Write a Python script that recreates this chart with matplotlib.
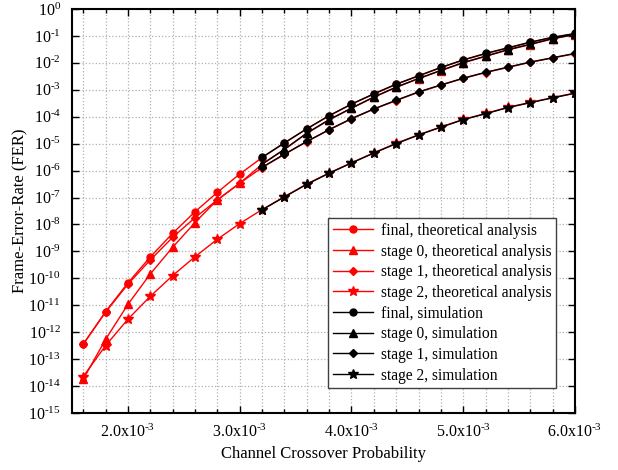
import numpy as np
import matplotlib
matplotlib.use("Agg")
import matplotlib.pyplot as plt
from matplotlib.ticker import FixedLocator, MultipleLocator, FuncFormatter, NullLocator

plt.rcParams['font.family'] = ['Liberation Serif', 'DejaVu Serif']
plt.rcParams['mathtext.fontset'] = 'custom'
plt.rcParams['mathtext.rm'] = 'Liberation Serif'
plt.rcParams['mathtext.it'] = 'Liberation Serif:italic'

# channel crossover probability (x 1e-3)
p_theory = [1.6, 1.8, 2.0, 2.2, 2.4, 2.6, 2.8, 3.0, 3.2, 3.4, 3.6, 3.8,
            4.0, 4.2, 4.4, 4.6, 4.8, 5.0, 5.2, 5.4, 5.6, 5.8, 6.0]
p_sim = [3.2, 3.4, 3.6, 3.8, 4.0, 4.2, 4.4, 4.6, 4.8, 5.0, 5.2, 5.4, 5.6, 5.8, 6.0]

# log10(FER), theoretical analysis
final_th = [-12.45, -11.24, -10.17, -9.21, -8.33, -7.53, -6.81, -6.13, -5.52, -4.98, -4.45, -3.97,
            -3.54, -3.16, -2.80, -2.49, -2.18, -1.90, -1.66, -1.45, -1.24, -1.06, -0.92]
stage0_th = [-13.75, -12.27, -10.97, -9.84, -8.85, -7.93, -7.09, -6.47, -5.77, -5.22, -4.62, -4.12,
             -3.69, -3.28, -2.91, -2.59, -2.29, -2.00, -1.76, -1.52, -1.32, -1.11, -0.95]
stage1_th = [-12.45, -11.26, -10.22, -9.32, -8.48, -7.75, -7.09, -6.47, -5.89, -5.40, -4.93, -4.49,
             -4.08, -3.72, -3.40, -3.09, -2.83, -2.58, -2.36, -2.17, -1.98, -1.82, -1.66]
stage2_th = [-13.65, -12.50, -11.52, -10.67, -9.90, -9.20, -8.55, -7.97, -7.45, -6.97, -6.50, -6.09,
             -5.71, -5.34, -4.99, -4.67, -4.38, -4.10, -3.88, -3.65, -3.47, -3.29, -3.12]

# log10(FER), simulation
final_sim = [-5.51, -4.97, -4.45, -3.96, -3.53, -3.15, -2.79, -2.48, -2.17, -1.89, -1.65, -1.44, -1.23, -1.05, -0.91]
stage0_sim = [-5.76, -5.21, -4.61, -4.11, -3.68, -3.27, -2.90, -2.58, -2.28, -1.99, -1.75, -1.51, -1.31, -1.10, -0.94]
stage1_sim = [-5.88, -5.39, -4.92, -4.48, -4.07, -3.71, -3.39, -3.08, -2.82, -2.57, -2.35, -2.16, -1.97, -1.81, -1.65]
stage2_sim = [-7.46, -6.98, -6.51, -6.10, -5.72, -5.35, -5.00, -4.68, -4.39, -4.11, -3.89, -3.66, -3.48, -3.30, -3.13]

fig = plt.figure(figsize=(6.18, 4.70), dpi=100)
ax = fig.add_axes([0.1165, 0.1213, 0.8139, 0.8596])

xt = np.array(p_theory) * 1e-3
xs = np.array(p_sim) * 1e-3

series = [
    (xt, final_th, 'r', 'o', 5, 'final, theoretical analysis'),
    (xt, stage0_th, 'r', '^', 5.5, 'stage 0, theoretical analysis'),
    (xt, stage1_th, 'r', 'D', 4.5, 'stage 1, theoretical analysis'),
    (xt, stage2_th, 'r', '*', 7, 'stage 2, theoretical analysis'),
    (xs, final_sim, 'k', 'o', 5, 'final, simulation'),
    (xs, stage0_sim, 'k', '^', 5.5, 'stage 0, simulation'),
    (xs, stage1_sim, 'k', 'D', 4.5, 'stage 1, simulation'),
    (xs, stage2_sim, 'k', '*', 7, 'stage 2, simulation'),
]
for x, y, c, m, ms, lab in series:
    ax.plot(x, 10.0 ** np.array(y), color=c, marker=m, markersize=ms, linewidth=1.0, label=lab)


def ylab(v, pos):
    e = int(round(np.log10(v)))
    if e < 0:
        return r'$\mathdefault{10^{\text{-}%d}}$' % (-e)
    return r'$\mathdefault{10^{%d}}$' % e


ax.set_yscale('log')
ax.set_xlim(1.5e-3, 6.0e-3)
ax.set_ylim(1e-15, 1)
ax.yaxis.set_major_locator(FixedLocator(10.0 ** np.arange(-15, 1)))
ax.yaxis.set_major_formatter(FuncFormatter(ylab))
ax.yaxis.set_minor_locator(NullLocator())
ax.xaxis.set_major_locator(MultipleLocator(1e-3))
ax.xaxis.set_minor_locator(FixedLocator(np.arange(1.6, 6.01, 0.2) * 1e-3))
ax.xaxis.set_major_formatter(FuncFormatter(lambda v, pos: r'$\mathdefault{%.1fx10^{\text{-}3}}$' % (v * 1e3)))

ax.tick_params(which='both', direction='in', top=True, right=True, labelsize=11.5, width=1)
ax.tick_params(which='major', length=5)
ax.tick_params(which='minor', length=3)
ax.tick_params(axis='x', which='major', pad=8)
ax.tick_params(axis='y', which='major', pad=8)
ax.grid(True, which='both', axis='x', linestyle=':', color='#b0b0b0', linewidth=0.9)
ax.grid(True, which='major', axis='y', linestyle=':', color='#b0b0b0', linewidth=0.9)
for s in ax.spines.values():
    s.set_linewidth(1.5)

ax.set_xlabel('Channel Crossover Probability', fontsize=12, labelpad=3)
ax.set_ylabel('Frame-Error-Rate (FER)', fontsize=12)
ax.yaxis.set_label_coords(-0.086, 0.5)

leg = ax.legend(loc='lower right', bbox_to_anchor=(0.978, 0.042), fontsize=11.2, frameon=True,
                fancybox=False, edgecolor='#404040', framealpha=1, labelspacing=0.3,
                handlelength=2.6, handletextpad=0.5, borderpad=0.3)
leg.get_frame().set_linewidth(1.0)

fig.savefig('out.png', dpi=100)
